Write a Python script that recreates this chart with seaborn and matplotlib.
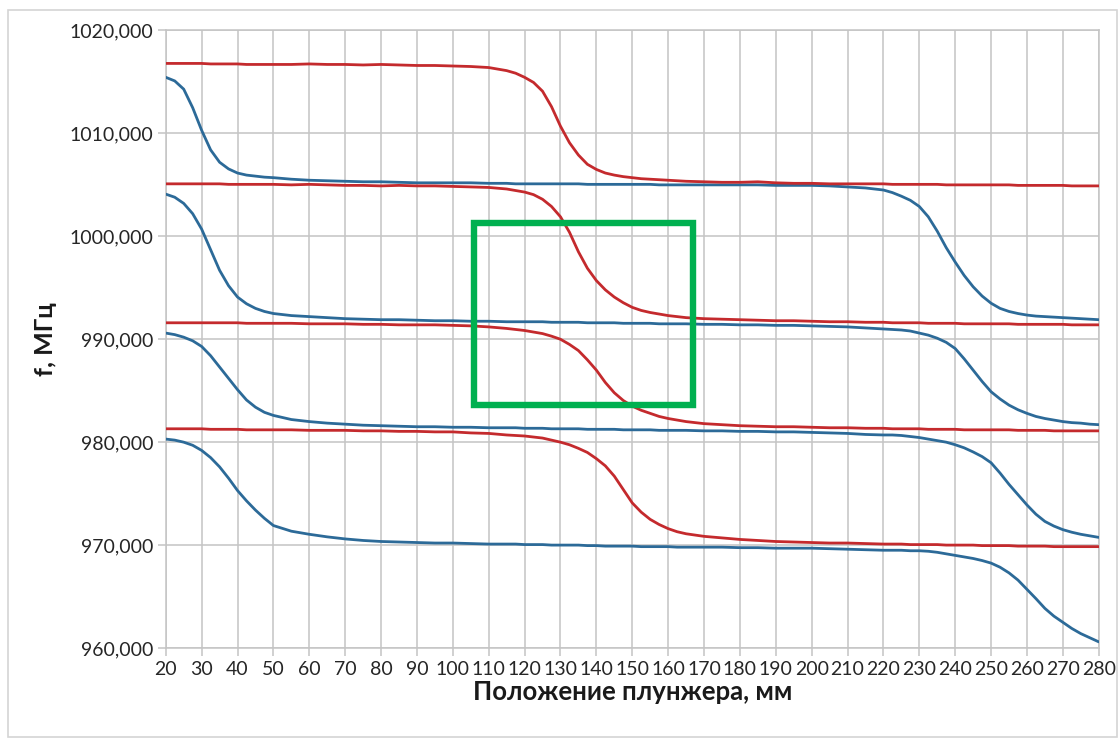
import numpy as np
import pandas as pd
import matplotlib
matplotlib.use("Agg")
import matplotlib.pyplot as plt
from matplotlib.patches import Rectangle
from matplotlib.ticker import FuncFormatter, MultipleLocator
import seaborn as sns

# Plunger position, mm (denser sampling where the resonances shift quickly)
position = (
    [20, 22.5, 25, 27.5, 30, 32.5, 35, 37.5, 40, 42.5, 45, 47.5, 50]
    + [55, 60, 65, 70, 75, 80, 85, 90, 95, 100, 105, 110]
    + [115, 117.5, 120, 122.5, 125, 127.5, 130, 132.5, 135, 137.5, 140, 142.5, 145,
       147.5, 150, 152.5, 155, 157.5, 160, 162.5, 165]
    + [170, 175, 180, 185, 190, 195, 200, 205, 210, 215]
    + [220, 222.5, 225, 227.5, 230, 232.5, 235, 237.5, 240, 242.5, 245, 247.5, 250,
       252.5, 255, 257.5, 260, 262.5, 265, 267.5, 270, 272.5, 275, 277.5, 280]
)

# Resonance frequencies, MHz — red family (shift near 130–150 mm)
red_1 = (
    [1016.8, 1016.8, 1016.8, 1016.8, 1016.8, 1016.75, 1016.75, 1016.75, 1016.75, 1016.7, 1016.7, 1016.7, 1016.7]
    + [1016.7, 1016.75, 1016.7, 1016.7, 1016.65, 1016.7, 1016.65, 1016.6, 1016.6, 1016.55, 1016.5, 1016.4]
    + [1016.1, 1015.85, 1015.45, 1014.95, 1014.1, 1012.6, 1010.7, 1009.1, 1007.9, 1007.0, 1006.5, 1006.15, 1005.95,
       1005.8, 1005.7, 1005.6, 1005.55, 1005.5, 1005.45, 1005.4, 1005.35]
    + [1005.3, 1005.25, 1005.25, 1005.3, 1005.2, 1005.15, 1005.15, 1005.1, 1005.1, 1005.1]
    + [1005.1, 1005.05, 1005.05, 1005.05, 1005.05, 1005.05, 1005.05, 1005.0, 1005.0, 1005.0, 1005.0, 1005.0, 1005.0,
       1005.0, 1005.0, 1004.95, 1004.95, 1004.95, 1004.95, 1004.95, 1004.95, 1004.9, 1004.9, 1004.9, 1004.9]
)
red_2 = (
    [1005.1, 1005.1, 1005.1, 1005.1, 1005.1, 1005.1, 1005.1, 1005.05, 1005.05, 1005.05, 1005.05, 1005.05, 1005.05]
    + [1005.0, 1005.05, 1005.0, 1004.95, 1004.95, 1004.9, 1004.95, 1004.9, 1004.9, 1004.85, 1004.8, 1004.75]
    + [1004.6, 1004.45, 1004.3, 1004.05, 1003.6, 1002.9, 1001.9, 1000.4, 998.5, 996.9, 995.7, 994.8, 994.1,
       993.55, 993.1, 992.8, 992.6, 992.45, 992.3, 992.2, 992.1]
    + [992.0, 991.95, 991.9, 991.85, 991.8, 991.8, 991.75, 991.7, 991.7, 991.65]
    + [991.65, 991.6, 991.6, 991.6, 991.6, 991.55, 991.55, 991.55, 991.55, 991.5, 991.5, 991.5, 991.5,
       991.5, 991.5, 991.45, 991.45, 991.45, 991.45, 991.45, 991.45, 991.4, 991.4, 991.4, 991.4]
)
red_3 = (
    [991.6, 991.6, 991.6, 991.6, 991.6, 991.6, 991.6, 991.6, 991.6, 991.55, 991.55, 991.55, 991.55]
    + [991.55, 991.5, 991.5, 991.5, 991.45, 991.45, 991.4, 991.4, 991.4, 991.35, 991.3, 991.2]
    + [991.05, 990.95, 990.85, 990.7, 990.55, 990.3, 990.0, 989.5, 988.9, 988.0, 987.0, 985.8, 984.8,
       984.05, 983.5, 983.1, 982.8, 982.5, 982.3, 982.15, 982.0]
    + [981.8, 981.7, 981.6, 981.55, 981.5, 981.5, 981.45, 981.4, 981.4, 981.35]
    + [981.35, 981.3, 981.3, 981.3, 981.3, 981.25, 981.25, 981.25, 981.25, 981.2, 981.2, 981.2, 981.2,
       981.2, 981.2, 981.15, 981.15, 981.15, 981.15, 981.1, 981.1, 981.1, 981.1, 981.1, 981.1]
)
red_4 = (
    [981.3, 981.3, 981.3, 981.3, 981.3, 981.25, 981.25, 981.25, 981.25, 981.2, 981.2, 981.2, 981.2]
    + [981.2, 981.15, 981.15, 981.15, 981.1, 981.1, 981.05, 981.05, 981.0, 981.0, 980.9, 980.85]
    + [980.7, 980.65, 980.6, 980.5, 980.4, 980.2, 980.0, 979.75, 979.4, 979.0, 978.4, 977.7, 976.7,
       975.4, 974.1, 973.2, 972.5, 972.0, 971.6, 971.3, 971.1]
    + [970.85, 970.7, 970.55, 970.45, 970.35, 970.3, 970.25, 970.2, 970.2, 970.15]
    + [970.1, 970.1, 970.1, 970.05, 970.05, 970.05, 970.05, 970.0, 970.0, 970.0, 970.0, 969.95, 969.95,
       969.95, 969.95, 969.9, 969.9, 969.9, 969.9, 969.85, 969.85, 969.85, 969.85, 969.85, 969.85]
)

# Resonance frequencies, MHz — blue family (shifts near 25–45 and 230–270 mm)
blue_1 = (
    [1015.45, 1015.1, 1014.3, 1012.5, 1010.3, 1008.4, 1007.2, 1006.55, 1006.15, 1005.95, 1005.85, 1005.75, 1005.7]
    + [1005.55, 1005.45, 1005.4, 1005.35, 1005.3, 1005.3, 1005.25, 1005.2, 1005.2, 1005.2, 1005.2, 1005.15]
    + [1005.15, 1005.1, 1005.1, 1005.1, 1005.1, 1005.1, 1005.1, 1005.1, 1005.1, 1005.05, 1005.05, 1005.05, 1005.05,
       1005.05, 1005.05, 1005.05, 1005.05, 1005.0, 1005.0, 1005.0, 1005.0]
    + [1005.0, 1005.0, 1005.0, 1005.0, 1004.95, 1004.95, 1004.95, 1004.9, 1004.8, 1004.7]
    + [1004.5, 1004.25, 1003.9, 1003.5, 1002.9, 1001.9, 1000.5, 998.9, 997.5, 996.2, 995.1, 994.2, 993.5,
       993.0, 992.7, 992.5, 992.35, 992.25, 992.2, 992.15, 992.1, 992.05, 992.0, 991.95, 991.9]
)
blue_2 = (
    [1004.1, 1003.8, 1003.2, 1002.2, 1000.7, 998.7, 996.7, 995.2, 994.1, 993.45, 993.0, 992.7, 992.5]
    + [992.3, 992.2, 992.1, 992.0, 991.95, 991.9, 991.9, 991.85, 991.8, 991.8, 991.75, 991.75]
    + [991.7, 991.7, 991.7, 991.7, 991.7, 991.65, 991.65, 991.65, 991.65, 991.6, 991.6, 991.6, 991.6,
       991.55, 991.55, 991.55, 991.55, 991.5, 991.5, 991.5, 991.5]
    + [991.45, 991.45, 991.4, 991.4, 991.35, 991.35, 991.3, 991.25, 991.2, 991.1]
    + [991.0, 990.95, 990.9, 990.8, 990.6, 990.4, 990.1, 989.7, 989.1, 988.1, 987.0, 985.9, 984.9,
       984.2, 983.6, 983.15, 982.8, 982.5, 982.3, 982.15, 982.0, 981.9, 981.85, 981.75, 981.7]
)
blue_3 = (
    [990.6, 990.45, 990.2, 989.85, 989.3, 988.4, 987.3, 986.2, 985.1, 984.1, 983.4, 982.9, 982.6]
    + [982.2, 982.0, 981.85, 981.75, 981.65, 981.6, 981.55, 981.5, 981.5, 981.45, 981.45, 981.4]
    + [981.4, 981.4, 981.35, 981.35, 981.35, 981.3, 981.3, 981.3, 981.3, 981.25, 981.25, 981.25, 981.25,
       981.2, 981.2, 981.2, 981.2, 981.15, 981.15, 981.15, 981.15]
    + [981.1, 981.1, 981.05, 981.05, 981.0, 981.0, 980.95, 980.9, 980.85, 980.75]
    + [980.7, 980.7, 980.65, 980.55, 980.45, 980.3, 980.15, 980.0, 979.75, 979.45, 979.05, 978.6, 978.0,
       977.0, 975.9, 974.9, 973.9, 973.0, 972.3, 971.85, 971.5, 971.25, 971.05, 970.9, 970.75]
)
blue_4 = (
    [980.3, 980.2, 980.0, 979.7, 979.2, 978.5, 977.6, 976.5, 975.3, 974.3, 973.4, 972.6, 971.9]
    + [971.35, 971.05, 970.8, 970.6, 970.45, 970.35, 970.3, 970.25, 970.2, 970.2, 970.15, 970.1]
    + [970.1, 970.1, 970.05, 970.05, 970.05, 970.0, 970.0, 970.0, 970.0, 969.95, 969.95, 969.9, 969.9,
       969.9, 969.9, 969.85, 969.85, 969.85, 969.85, 969.8, 969.8]
    + [969.8, 969.8, 969.75, 969.75, 969.7, 969.7, 969.7, 969.65, 969.6, 969.55]
    + [969.5, 969.5, 969.5, 969.45, 969.45, 969.4, 969.3, 969.15, 969.0, 968.85, 968.7, 968.5, 968.25,
       967.85, 967.3, 966.6, 965.7, 964.8, 963.85, 963.1, 962.5, 961.9, 961.4, 961.0, 960.6]
)

# Highlighted region: [x0, x1] mm, [y0, y1] MHz
box_x = [106.0, 166.8]
box_y = [983.6, 1001.3]

x_ticks = list(range(20, 290, 10))

RED = "#c42a2d"
BLUE = "#2c6a98"
GREEN = "#00b050"
GRID = "#c4c4c4"

sns.set_theme(style="white")
plt.rcParams["font.family"] = ["Lato", "DejaVu Sans"]

fig = plt.figure(figsize=(11.2, 7.4), dpi=100)
ax = fig.add_axes([0.148, 0.1243, 0.833, 0.8345])

curves = [(blue_1, BLUE), (blue_2, BLUE), (blue_3, BLUE), (blue_4, BLUE),
          (red_1, RED), (red_2, RED), (red_3, RED), (red_4, RED)]
for vals, col in curves:
    df = pd.DataFrame({"pos": position, "f": vals})
    sns.lineplot(data=df, x="pos", y="f", color=col, linewidth=2.0, ax=ax, zorder=3,
                 solid_joinstyle="round", solid_capstyle="round")

ax.add_patch(Rectangle((box_x[0], box_y[0]), box_x[1] - box_x[0], box_y[1] - box_y[0],
                       fill=False, edgecolor=GREEN, linewidth=4.6, zorder=5))

ax.set_xlim(20, 280)
ax.set_ylim(960, 1020)
ax.set_xticks(x_ticks)
ax.yaxis.set_major_locator(MultipleLocator(10))
ax.yaxis.set_major_formatter(FuncFormatter(lambda v, p: f"{v:.3f}".replace(".", ",")))

ax.grid(True, color=GRID, linewidth=1.1, zorder=0)
ax.set_axisbelow(True)
for s in ax.spines.values():
    s.set_color(GRID)
    s.set_linewidth(1.1)

ax.tick_params(axis="both", which="major", direction="out", length=6, width=1.1,
               color=GRID, labelsize=14, labelcolor="#262626", pad=3,
               bottom=True, left=True)

ax.set_xlabel("Положение плунжера, мм", fontsize=18.5, fontweight="bold", color="#1a1a1a")
ax.set_ylabel("f, МГц", fontsize=18, fontweight="bold", color="#1a1a1a")
ax.xaxis.set_label_coords(0.5, -0.052)
ax.yaxis.set_label_coords(-0.117, 0.5)

# light frame around the whole chart
fig.patches.append(Rectangle((8 / 1120, 1 - 737 / 740), (1117 - 8) / 1120, (737 - 10) / 740,
                             transform=fig.transFigure, fill=False,
                             edgecolor="#d4d4d4", linewidth=1.2))

fig.savefig("out.png", dpi=100, facecolor="white")
